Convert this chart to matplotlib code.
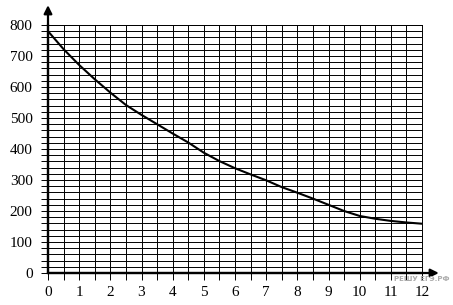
import numpy as np
import matplotlib
matplotlib.use("Agg")
import matplotlib.pyplot as plt

# values every half unit
x_vals = [0, 0.5, 1, 1.5, 2, 2.5, 3, 3.5, 4, 4.5, 5, 5.5, 6,
          6.5, 7, 7.5, 8, 8.5, 9, 9.5, 10, 10.5, 11, 11.5, 12]
y_vals = [780, 722, 671, 625, 582, 542, 510, 480, 450, 421, 388, 361, 338,
          318, 299, 277, 259, 240, 220, 200, 184, 175, 168, 163, 159]
x_ticks = list(range(0, 13))
y_ticks = list(range(0, 801, 100))

fig = plt.figure(figsize=(4.53, 3.05), dpi=100)
ax = fig.add_axes([48 / 453, 32 / 305, 374 / 453, 248 / 305])

ax.set_xlim(0, 12)
ax.set_ylim(0, 800)

ax.set_xticks(x_ticks)
ax.set_yticks(y_ticks)
ax.set_xticks(np.arange(0, 12.01, 0.5), minor=True)
ax.set_yticks(np.arange(0, 800.1, 20), minor=True)
ax.set_xticklabels([str(t) for t in x_ticks])
ax.set_yticklabels([str(t) for t in y_ticks])

ax.grid(which="both", color="black", lw=0.7)
ax.set_axisbelow(True)
ax.tick_params(which="both", direction="out", length=5, width=0.7, color="black")
ax.tick_params(axis="x", pad=4)
ax.tick_params(axis="y", pad=6)
for lab in ax.get_xticklabels() + ax.get_yticklabels():
    lab.set_fontfamily("Liberation Serif")
    lab.set_fontsize(11)

for s in ["top", "right"]:
    ax.spines[s].set_linewidth(0.7)
for s in ["left", "bottom"]:
    ax.spines[s].set_linewidth(1.6)

# axis arrows
ax.annotate("", xy=(0, 1.08), xytext=(0, 0), xycoords="axes fraction",
            arrowprops=dict(arrowstyle="-|>", color="black", lw=1.6,
                            mutation_scale=12, shrinkA=0, shrinkB=0))
ax.annotate("", xy=(1.045, 0), xytext=(0, 0), xycoords="axes fraction",
            arrowprops=dict(arrowstyle="-|>", color="black", lw=1.6,
                            mutation_scale=12, shrinkA=0, shrinkB=0))

ax.plot(x_vals, y_vals, color="black", lw=1.5, zorder=3)

fig.text(450 / 453, 1 - 279 / 305, "РЕШУ ЕГЭ.РФ", ha="right", va="center",
         fontsize=5, color="#aaaaaa", fontweight="bold")

fig.savefig("out.png", dpi=100)
